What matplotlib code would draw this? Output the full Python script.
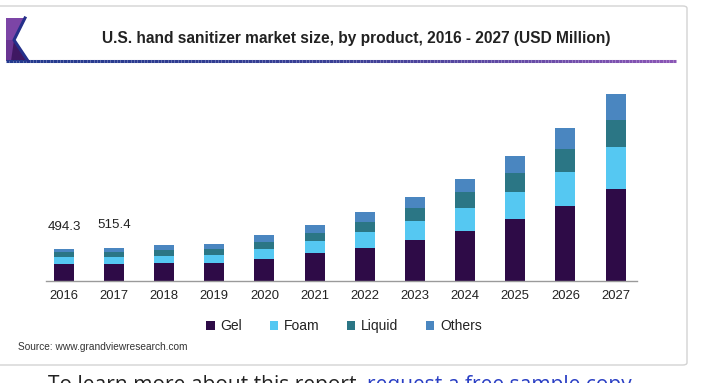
import matplotlib
matplotlib.use("Agg")
import matplotlib.pyplot as plt
import numpy as np
from matplotlib.patches import Polygon, FancyBboxPatch
from matplotlib.collections import LineCollection
from matplotlib.colors import LinearSegmentedColormap

plt.rcParams['font.family'] = ['Liberation Sans', 'DejaVu Sans']

years = ['2016', '2017', '2018', '2019', '2020', '2021', '2022', '2023', '2024', '2025', '2026', '2027']
gel = [258, 258, 273, 283, 345, 428, 515, 638, 777, 953, 1163, 1417]
foam = [108, 113, 117, 119, 155, 195, 238, 284, 346, 417, 516, 649]
liquid = [77, 73, 88, 88, 99, 124, 155, 201, 247, 303, 360, 422]
others = [51, 71, 73, 82, 108, 124, 155, 175, 210, 263, 324, 402]
series_names = ['Gel', 'Foam', 'Liquid', 'Others']
colors = ['#2e0b47', '#55c8f2', '#2b7685', '#4a86c0']
labeled_totals = {0: '494.3', 1: '515.4'}

W, H = 705, 383
fig = plt.figure(figsize=(W / 100, H / 100), dpi=100)
fig.patch.set_facecolor('white')

def fx(x):
    return x / W

def fy(y):
    return 1 - y / H

# card
card = FancyBboxPatch((fx(-8), fy(365)), fx(687 + 8), (365 - 6) / H,
                      boxstyle="round,pad=0,rounding_size=0.006",
                      transform=fig.transFigure, facecolor='white',
                      edgecolor='#d3d3d3', linewidth=1.0, zorder=0)
fig.add_artist(card)

# logo
fig.add_artist(Polygon([(fx(6), fy(18)), (fx(25), fy(18)), (fx(14), fy(40)),
                        (fx(6), fy(40))], closed=True, transform=fig.transFigure,
                       facecolor='#7c45a6', edgecolor='none', zorder=2))
fig.add_artist(Polygon([(fx(6), fy(40)), (fx(14), fy(40)), (fx(27), fy(61)),
                        (fx(6), fy(61))], closed=True, transform=fig.transFigure,
                       facecolor='#6a3592', edgecolor='none', zorder=2))
fig.add_artist(Polygon([(fx(11), fy(61)), (fx(14), fy(40)), (fx(27), fy(61))],
                       closed=True, transform=fig.transFigure,
                       facecolor='#3f1862', edgecolor='none', zorder=2))
fig.add_artist(plt.Line2D([fx(25), fx(14), fx(28)], [fy(18), fy(40), fy(61)],
                          transform=fig.transFigure, color='#25308a', lw=2.2, zorder=3))

# gradient underline
xs = np.linspace(6, 676, 200)
segs = [[(fx(xs[i]), fy(60.5)), (fx(xs[i + 1]), fy(60.5))] for i in range(len(xs) - 1)]
cmap = LinearSegmentedColormap.from_list('g', ['#233a8e', '#3a3f95', '#8a55b5'])
lc = LineCollection(segs, colors=cmap(np.linspace(0, 1, len(segs))), linewidths=2.2,
                    transform=fig.transFigure, zorder=2)
fig.add_artist(lc)

fig.text(fx(356), fy(38), 'U.S. hand sanitizer market size, by product, 2016 - 2027 (USD Million)',
         ha='center', va='center', fontsize=11.2, fontweight='bold', color='#222222')

# axes
x0, x1 = -0.36, 11.42
base_px, top_px = 281, 70
scale = 15.45
ax = fig.add_axes([fx(45.7), fy(base_px), (636.7 - 45.7) / W, (base_px - top_px) / H])
ax.set_xlim(x0, x1)
ax.set_ylim(0, (base_px - top_px) * scale)
ax.set_facecolor('none')

x = np.arange(len(years))
bottom = np.zeros(len(years))
for name, vals, c in zip(series_names, [gel, foam, liquid, others], colors):
    ax.bar(x, vals, width=0.4, bottom=bottom, color=c, label=name, zorder=2)
    bottom += np.array(vals)

for i, lab in labeled_totals.items():
    ax.annotate(lab, (x[i], bottom[i]), xytext=(0.5, 16), textcoords='offset points',
                ha='center', va='center', fontsize=9.6, color='#222222')

for s in ['top', 'right', 'left']:
    ax.spines[s].set_visible(False)
ax.spines['bottom'].set_color('#9a9a9a')
ax.spines['bottom'].set_linewidth(1.0)
ax.set_yticks([])
ax.set_xticks(x)
ax.set_xticklabels(years, fontsize=9.4, color='#222222')
ax.tick_params(axis='x', length=0, pad=6.5)

handles, labels = ax.get_legend_handles_labels()
fig.legend(handles, labels, loc='center', bbox_to_anchor=(fx(344), fy(326)), ncol=4,
           frameon=False, fontsize=10, handlelength=0.6, handleheight=0.6,
           handletextpad=0.4, columnspacing=2.0, labelcolor='#222222')

fig.text(fx(18), fy(347), 'Source: www.grandviewresearch.com', ha='left', va='center',
         fontsize=7.3, color='#333333')

t1 = fig.text(fx(48), fy(386), 'To learn more about this report, ', ha='left', va='center',
              fontsize=15.1, color='#222222', family=['Open Sans', 'DejaVu Sans'])
fig.canvas.draw()
bb = t1.get_window_extent()
fig.text(bb.x1 / W, fy(386), 'request a free sample copy', ha='left', va='center',
         fontsize=15.1, color='#2a3fc4', family=['Open Sans', 'DejaVu Sans'])

fig.savefig('out.png', dpi=100, facecolor='white')
